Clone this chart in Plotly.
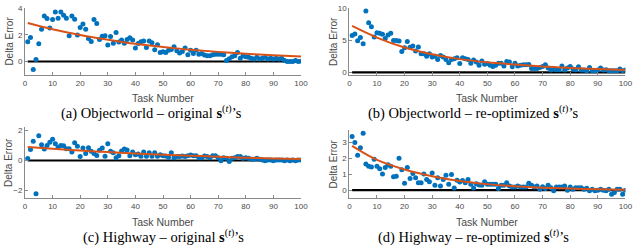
import plotly.graph_objects as go

tasks = list(range(1, 101))

# (a) Objectworld - original
err_a = [1.47, 1.8, -0.6, 0.15, 1.33, 2.4, 3.4, 3.2, 2.5, 3.13,
         3.69, 3.23, 3.69, 3.45, 3.23, 1.93, 3.4, 3.16, 1.98, 2.53,
         2.8, 2.41, 1.71, 1.49, 3.13, 2.84, 1.64, 1.88, 1.93, 1.23,
         1.86, 1.37, 2.17, 1.45, 1.61, 1.37, 1.64, 1.78, 1.6, 1.0,
         1.35, 1.47, 1.54, 1.04, 1.54, 1.4, 0.87, 1.25, 0.67, 0.72,
         0.67, 0.84, 0.9, 1.1, 0.8, 0.63, 0.75, 1.0, 0.5, 0.84,
         0.6, 0.84, 0.55, 0.6, 0.48, 0.43, 0.43, 0.5, 0.55, 0.55,
         0.55, 0.5, 0.07, 0.2, 0.36, 0.43, 0.67, 0.24, 0.43, 0.36,
         0.31, 0.24, 0.19, 0.31, 0.19, 0.24, 0.31, 0.19, 0.24, 0.19,
         0.24, 0.19, 0.24, 0.07, 0.0, 0.0, 0.0, 0.07, 0.0, 0.02]

# (b) Objectworld - re-optimized
err_b = [5.7, 5.96, 4.9, 5.4, 4.44, 9.5, 7.68, 7.07, 5.5, 6.16,
         6.06, 5.9, 5.25, 5.8, 6.06, 4.95, 4.95, 4.85, 3.23, 3.8,
         4.8, 3.9, 4.1, 3.3, 3.94, 2.88, 2.88, 2.5, 2.88, 2.37,
         2.5, 2.0, 2.6, 2.4, 2.0, 1.5, 2.0, 2.1, 2.27, 1.36,
         2.27, 2.1, 2.0, 1.4, 1.9, 1.6, 1.1, 1.77, 1.26, 1.36,
         1.1, 0.9, 1.1, 1.4, 1.4, 1.0, 1.67, 1.6, 0.86, 1.4,
         1.0, 1.1, 1.16, 1.16, 1.2, 0.6, 0.6, 0.6, 0.76, 0.9,
         1.16, 0.66, 0.35, 0.6, 0.4, 0.4, 1.0, 0.35, 0.66, 0.9,
         0.5, 0.4, 0.86, 0.35, 0.35, 0.25, 0.76, 0.25, 0.25, 0.35,
         0.66, 0.35, 0.4, 0.25, 0.25, 0.25, 0.25, 0.5, 0.25, 0.35]

# (c) Highway - original
err_c = [0.13, 0.73, 1.28, -2.2, 1.65, 1.05, 0.77, 1.0, 1.22, 1.41,
         1.11, 0.88, 1.0, 0.98, 0.79, 0.79, 0.56, 1.18, 0.94, 0.26,
         0.83, 0.47, 0.85, 0.62, 0.47, 0.34, 0.68, 0.83, 0.28, 1.11,
         0.62, 0.51, 0.19, 0.32, 0.64, 0.77, 0.7, 0.32, 0.56, 0.38,
         0.43, 0.28, 0.56, 0.28, 0.51, 0.28, 0.51, 0.28, 0.38, 0.32,
         0.3, 0.21, 0.51, 0.19, 0.26, 0.26, 0.3, 0.26, 0.32, 0.36,
         0.32, 0.32, 0.19, 0.19, 0.3, 0.26, 0.19, 0.32, 0.32, 0.19,
         -0.02, 0.19, 0.15, -0.06, 0.15, 0.19, 0.26, 0.26, 0.15, 0.19,
         0.15, 0.09, 0.09, 0.15, 0.09, 0.04, -0.02, 0.04, 0.04, -0.02,
         0.04, 0.04, 0.04, -0.02, 0.04, -0.02, 0.04, -0.02, 0.04, 0.04]

# (d) Highway - re-optimized
err_d = [3.37, 3.0, 2.2, 2.66, 3.58, 1.64, 1.5, 1.45, 1.94, 1.5,
         1.35, 1.02, 1.43, 1.6, 1.5, 0.84, 0.88, 2.0, 1.29, 0.43,
         1.43, 0.74, 1.04, 0.78, 0.47, 0.47, 1.02, 0.67, 0.53, 1.08,
         0.31, 0.78, 0.27, 0.67, 0.94, 0.37, 0.98, 0.14, 0.63, 0.51,
         0.61, 0.47, 0.67, 0.37, 0.14, 0.41, 0.33, 0.31, 0.53, 0.37,
         0.37, 0.37, 0.37, 0.1, 0.31, 0.31, 0.47, 0.27, 0.2, 0.2,
         0.27, 0.2, 0.2, 0.2, 0.43, 0.31, 0.2, 0.27, 0.06, 0.22,
         0.1, 0.31, 0.16, -0.04, 0.2, 0.2, 0.2, 0.27, 0.0, 0.2,
         0.06, 0.16, 0.16, 0.16, 0.06, 0.12, -0.04, 0.06, -0.04, 0.0,
         0.06, 0.0, -0.04, 0.06, -0.25, -0.14, 0.06, 0.06, -0.25, 0.0]

# fitted trend curves (at these tasks)
fit_x = [1, 10, 20, 30, 40, 50, 60, 70, 80, 90, 100]
fit_a = [2.87, 2.41, 1.98, 1.63, 1.32, 1.08, 0.88, 0.72, 0.58, 0.47, 0.38]
fit_b = [7.2, 5.4, 3.85, 2.8, 2.05, 1.55, 1.2, 0.9, 0.68, 0.5, 0.38]
fit_c = [0.9, 0.78, 0.66, 0.56, 0.47, 0.39, 0.32, 0.25, 0.19, 0.14, 0.1]
fit_d = [2.78, 1.9, 1.3, 0.88, 0.58, 0.38, 0.25, 0.16, 0.1, 0.06, 0.03]

x_ticks = list(range(0, 101, 10))
captions = ["(a) Objectworld – original <b>s</b><sup>(<i>t</i>)</sup>’s",
            "(b) Objectworld – re-optimized <b>s</b><sup>(<i>t</i>)</sup>’s",
            "(c) Highway – original <b>s</b><sup>(<i>t</i>)</sup>’s",
            "(d) Highway – re-optimized <b>s</b><sup>(<i>t</i>)</sup>’s"]

W, H = 640, 246
BLUE = "#0072BD"
RED = "#D95319"
AX = "#8a8a8a"
TXT = "#4a4a4a"

panels = [
    dict(y=err_a, fit=fit_a, yr=[-1, 4], yt=[0, 2, 4], x0=23.3, x1=303.3, top=4, bot=72.7, cap_x=152),
    dict(y=err_b, fit=fit_b, yr=[-0.4, 10], yt=[0, 5, 10], x0=352.3, x1=632.3, top=4, bot=72.7, cap_x=478),
    dict(y=err_c, fit=fit_c, yr=[-2.5, 2.2], yt=[-2, 0, 2], x0=23.3, x1=303.3, top=126.5, bot=199, cap_x=164),
    dict(y=err_d, fit=fit_d, yr=[-0.5, 3.8], yt=[0, 1, 2, 3], x0=352.3, x1=632.3, top=128.8, bot=199, cap_x=478),
]

fig = go.Figure()
annotations = []
for i, p in enumerate(panels, start=1):
    xa = "x" if i == 1 else f"x{i}"
    ya = "y" if i == 1 else f"y{i}"
    fig.add_trace(go.Scatter(x=[1, 100], y=[0, 0], mode="lines",
                             line=dict(color="black", width=2.2),
                             xaxis=xa, yaxis=ya, showlegend=False, hoverinfo="skip"))
    fig.add_trace(go.Scatter(x=tasks, y=p["y"], mode="markers",
                             marker=dict(color=BLUE, size=5, line=dict(width=0)),
                             xaxis=xa, yaxis=ya, showlegend=False))
    fig.add_trace(go.Scatter(x=fit_x, y=p["fit"], mode="lines", line_shape="spline",
                             line=dict(color=RED, width=2),
                             xaxis=xa, yaxis=ya, showlegend=False))
    axcommon = dict(showgrid=False, zeroline=False, showline=True, linecolor=AX, linewidth=1,
                    ticks="inside", ticklen=3, tickcolor=AX, tickwidth=1,
                    tickfont=dict(family="Liberation Sans, Arial", size=8, color=TXT))
    fig.update_layout(**{
        ("xaxis" if i == 1 else f"xaxis{i}"): dict(
            domain=[p["x0"] / W, p["x1"] / W], range=[0, 100], tickvals=x_ticks,
            anchor=ya, **axcommon),
        ("yaxis" if i == 1 else f"yaxis{i}"): dict(
            domain=[1 - p["bot"] / H, 1 - p["top"] / H], range=p["yr"], tickvals=p["yt"],
            anchor=xa, **axcommon),
    })
    mid_x = (p["x0"] + p["x1"]) / 2
    annotations.append(dict(text="Task Number", x=mid_x / W, y=1 - (p["bot"] + 24) / H,
                            xref="paper", yref="paper", showarrow=False, xanchor="center", yanchor="middle",
                            font=dict(family="Liberation Sans, Arial", size=10.5, color=TXT)))
    annotations.append(dict(text="Delta Error", x=(p["x0"] - 16) / W, y=1 - ((p["top"] + p["bot"]) / 2) / H,
                            xref="paper", yref="paper", showarrow=False, xanchor="center", yanchor="middle",
                            textangle=-90,
                            font=dict(family="Liberation Sans, Arial", size=10, color=TXT)))
    annotations.append(dict(text=captions[i - 1], x=p["cap_x"] / W, y=1 - (p["bot"] + 39) / H,
                            xref="paper", yref="paper", showarrow=False, xanchor="center", yanchor="middle",
                            font=dict(family="Liberation Serif, Times New Roman", size=14.5, color="black")))

fig.update_layout(width=W, height=H, margin=dict(l=0, r=0, t=0, b=0),
                  paper_bgcolor="white", plot_bgcolor="white", annotations=annotations)
fig.write_html("out.html", config={"displayModeBar": False},
               post_script="document.body.style.margin='0';document.body.style.overflow='hidden';")
